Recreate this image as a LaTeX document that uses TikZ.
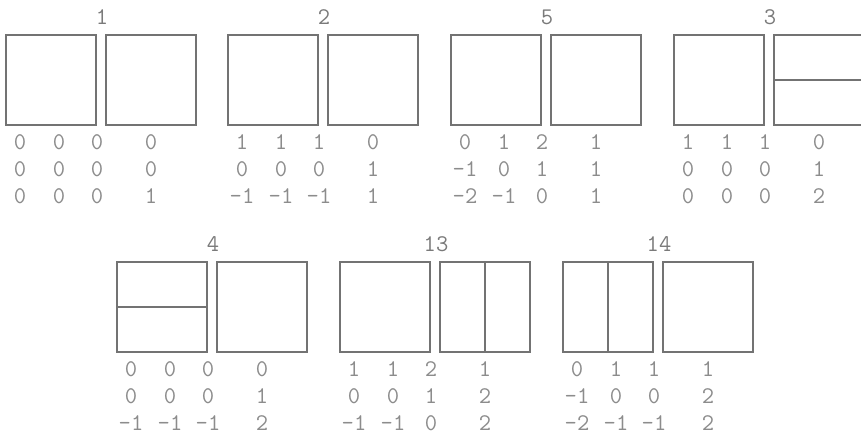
\documentclass[tikz,border=0pt]{standalone}
\usepackage{fontspec}
\usetikzlibrary{backgrounds}

\begin{document}
\begin{tikzpicture}[x=2.5cm,y=2.5cm,
  cell/.style={draw=black!55,line width=0.8pt},
  num/.style={text=black!45,inner sep=0pt,font=\ttfamily\fontsize{17}{17}\selectfont},
  lab/.style={text=black!52,inner sep=0pt,font=\ttfamily\fontsize{17}{17}\selectfont}]

\clip (0,0) rectangle (8.61,4.37);


\begin{scope}[shift={(0.06,3.12)}]

\draw[cell] (0,0) rectangle (0.9,0.9);
\draw[cell] (1,0) rectangle (1.9,0.9);

\node[lab] (t1) at (0.96,1.08) {1};

\node[num] (a11) at (0.14,-0.17) {0};
\node[num] (a12) at (0.53,-0.17) {0};
\node[num] (a13) at (0.91,-0.17) {0};
\node[num] (a14) at (1.45,-0.17) {0};
\node[num] (a21) at (0.14,-0.44) {0};
\node[num] (a22) at (0.53,-0.44) {0};
\node[num] (a23) at (0.91,-0.44) {0};
\node[num] (a24) at (1.45,-0.44) {0};
\node[num] (a31) at (0.14,-0.71) {0};
\node[num] (a32) at (0.53,-0.71) {0};
\node[num] (a33) at (0.91,-0.71) {0};
\node[num] (a34) at (1.45,-0.71) {1};

\end{scope}


\begin{scope}[shift={(2.28,3.12)}]

\draw[cell] (0,0) rectangle (0.9,0.9);
\draw[cell] (1,0) rectangle (1.9,0.9);

\node[lab] (t2) at (0.96,1.08) {2};

\node[num] (b11) at (0.14,-0.17) {1};
\node[num] (b12) at (0.53,-0.17) {1};
\node[num] (b13) at (0.91,-0.17) {1};
\node[num] (b14) at (1.45,-0.17) {0};
\node[num] (b21) at (0.14,-0.44) {0};
\node[num] (b22) at (0.53,-0.44) {0};
\node[num] (b23) at (0.91,-0.44) {0};
\node[num] (b24) at (1.45,-0.44) {1};
\node[num] (b31) at (0.14,-0.71) {-1};
\node[num] (b32) at (0.53,-0.71) {-1};
\node[num] (b33) at (0.91,-0.71) {-1};
\node[num] (b34) at (1.45,-0.71) {1};

\end{scope}


\begin{scope}[shift={(4.51,3.12)}]

\draw[cell] (0,0) rectangle (0.9,0.9);
\draw[cell] (1,0) rectangle (1.9,0.9);

\node[lab] (t5) at (0.96,1.08) {5};

\node[num] (c11) at (0.14,-0.17) {0};
\node[num] (c12) at (0.53,-0.17) {1};
\node[num] (c13) at (0.91,-0.17) {2};
\node[num] (c14) at (1.45,-0.17) {1};
\node[num] (c21) at (0.14,-0.44) {-1};
\node[num] (c22) at (0.53,-0.44) {0};
\node[num] (c23) at (0.91,-0.44) {1};
\node[num] (c24) at (1.45,-0.44) {1};
\node[num] (c31) at (0.14,-0.71) {-2};
\node[num] (c32) at (0.53,-0.71) {-1};
\node[num] (c33) at (0.91,-0.71) {0};
\node[num] (c34) at (1.45,-0.71) {1};

\end{scope}


\begin{scope}[shift={(6.74,3.12)}]

\draw[cell] (0,0) rectangle (0.9,0.9);
\draw[cell] (1,0) rectangle (1.9,0.9);
\draw[cell] (1,0.45)--(1.9,0.45);

\node[lab] (t3) at (0.96,1.08) {3};

\node[num] (d11) at (0.14,-0.17) {1};
\node[num] (d12) at (0.53,-0.17) {1};
\node[num] (d13) at (0.91,-0.17) {1};
\node[num] (d14) at (1.45,-0.17) {0};
\node[num] (d21) at (0.14,-0.44) {0};
\node[num] (d22) at (0.53,-0.44) {0};
\node[num] (d23) at (0.91,-0.44) {0};
\node[num] (d24) at (1.45,-0.44) {1};
\node[num] (d31) at (0.14,-0.71) {0};
\node[num] (d32) at (0.53,-0.71) {0};
\node[num] (d33) at (0.91,-0.71) {0};
\node[num] (d34) at (1.45,-0.71) {2};

\end{scope}


\begin{scope}[shift={(1.17,0.85)}]

\draw[cell] (0,0) rectangle (0.9,0.9);
\draw[cell] (0,0.45)--(0.9,0.45);
\draw[cell] (1,0) rectangle (1.9,0.9);

\node[lab] (t4) at (0.96,1.08) {4};

\node[num] (e11) at (0.14,-0.17) {0};
\node[num] (e12) at (0.53,-0.17) {0};
\node[num] (e13) at (0.91,-0.17) {0};
\node[num] (e14) at (1.45,-0.17) {0};
\node[num] (e21) at (0.14,-0.44) {0};
\node[num] (e22) at (0.53,-0.44) {0};
\node[num] (e23) at (0.91,-0.44) {0};
\node[num] (e24) at (1.45,-0.44) {1};
\node[num] (e31) at (0.14,-0.71) {-1};
\node[num] (e32) at (0.53,-0.71) {-1};
\node[num] (e33) at (0.91,-0.71) {-1};
\node[num] (e34) at (1.45,-0.71) {2};

\end{scope}


\begin{scope}[shift={(3.40,0.85)}]

\draw[cell] (0,0) rectangle (0.9,0.9);
\draw[cell] (1,0) rectangle (1.9,0.9);
\draw[cell] (1.45,0)--(1.45,0.9);

\node[lab] (t13) at (0.96,1.08) {13};

\node[num] (f11) at (0.14,-0.17) {1};
\node[num] (f12) at (0.53,-0.17) {1};
\node[num] (f13) at (0.91,-0.17) {2};
\node[num] (f14) at (1.45,-0.17) {1};
\node[num] (f21) at (0.14,-0.44) {0};
\node[num] (f22) at (0.53,-0.44) {0};
\node[num] (f23) at (0.91,-0.44) {1};
\node[num] (f24) at (1.45,-0.44) {2};
\node[num] (f31) at (0.14,-0.71) {-1};
\node[num] (f32) at (0.53,-0.71) {-1};
\node[num] (f33) at (0.91,-0.71) {0};
\node[num] (f34) at (1.45,-0.71) {2};

\end{scope}


\begin{scope}[shift={(5.63,0.85)}]

\draw[cell] (0,0) rectangle (0.9,0.9);
\draw[cell] (0.45,0)--(0.45,0.9);
\draw[cell] (1,0) rectangle (1.9,0.9);

\node[lab] (t14) at (0.96,1.08) {14};

\node[num] (g11) at (0.14,-0.17) {0};
\node[num] (g12) at (0.53,-0.17) {1};
\node[num] (g13) at (0.91,-0.17) {1};
\node[num] (g14) at (1.45,-0.17) {1};
\node[num] (g21) at (0.14,-0.44) {-1};
\node[num] (g22) at (0.53,-0.44) {0};
\node[num] (g23) at (0.91,-0.44) {0};
\node[num] (g24) at (1.45,-0.44) {2};
\node[num] (g31) at (0.14,-0.71) {-2};
\node[num] (g32) at (0.53,-0.71) {-1};
\node[num] (g33) at (0.91,-0.71) {-1};
\node[num] (g34) at (1.45,-0.71) {2};

\end{scope}

\end{tikzpicture}
\end{document}
